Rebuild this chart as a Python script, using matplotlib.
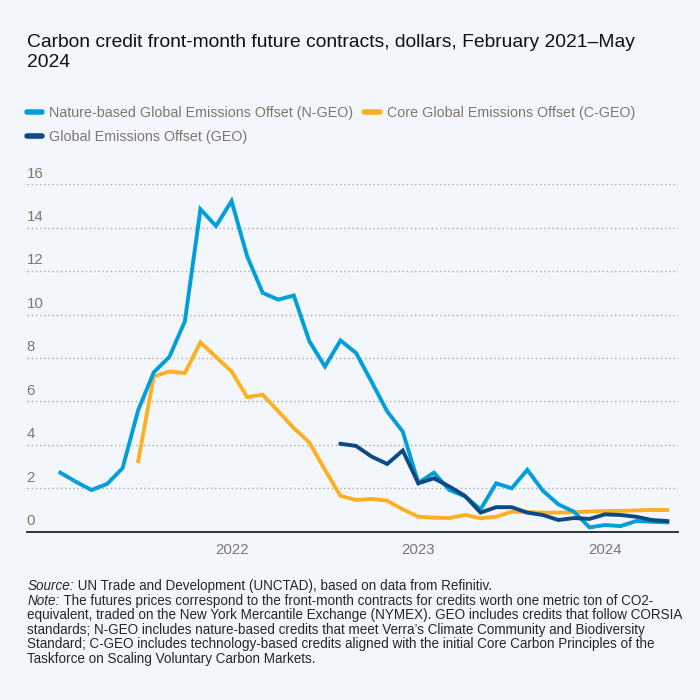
import numpy as np
import matplotlib
matplotlib.use("Agg")
import matplotlib.pyplot as plt
from matplotlib.lines import Line2D

# --------------------------------
# Data (monthly, index 0 = Jan 2021)
# --------------------------------
months_ngeo = np.arange(1, 41)  # Feb 2021 - May 2024
ngeo = [2.72, 2.3, 1.92, 2.2, 2.93, 5.6, 7.34, 8.05, 9.69, 14.85,
        14.08, 15.23, 12.69, 11.0, 10.69, 10.88, 8.77, 7.61, 8.81, 8.23,
        6.9, 5.54, 4.61, 2.25, 2.72, 1.92, 1.63, 1.03, 2.23, 2.0,
        2.85, 1.89, 1.26, 0.92, 0.2, 0.31, 0.26, 0.49, 0.46, 0.43]

months_cgeo = np.arange(6, 41)  # Jul 2021 - May 2024
cgeo = [3.25, 7.15, 7.38, 7.31, 8.72, 8.05, 7.38, 6.2, 6.31, 5.55,
        4.77, 4.11, 2.85, 1.65, 1.46, 1.51, 1.43, 1.03, 0.69, 0.65,
        0.63, 0.77, 0.62, 0.69, 0.92, 0.91, 0.88, 0.88, 0.9, 0.93,
        0.95, 0.96, 0.98, 1.0, 1.0]

months_geo = np.arange(19, 41)  # Aug 2022 - May 2024
geo = [4.05, 3.95, 3.46, 3.12, 3.74, 2.23, 2.46, 2.08, 1.65, 0.88,
       1.13, 1.13, 0.88, 0.77, 0.54, 0.63, 0.59, 0.8, 0.77, 0.69,
       0.54, 0.49]

year_ticks = [12, 24, 36]
year_labels = ["2022", "2023", "2024"]
y_ticks = [0, 2, 4, 6, 8, 10, 12, 14, 16]

labels = ["Nature-based Global Emissions Offset (N-GEO)",
          "Core Global Emissions Offset (C-GEO)",
          "Global Emissions Offset (GEO)"]
colors = ["#009edb", "#fdb022", "#0b4a86"]

title = "Carbon credit front-month future contracts, dollars, February 2021\u2013May\n2024"
source_text = " UN Trade and Development (UNCTAD), based on data from Refinitiv."
note_lines = [
    " The futures prices correspond to the front-month contracts for credits worth one metric ton of CO2-",
    "equivalent, traded on the New York Mercantile Exchange (NYMEX). GEO includes credits that follow CORSIA",
    "standards; N-GEO includes nature-based credits that meet Verra\u2019s Climate Community and Biodiversity",
    "Standard; C-GEO includes technology-based credits aligned with the initial Core Carbon Principles of the",
    "Taskforce on Scaling Voluntary Carbon Markets.",
]

# --------------------------------
# Style
# --------------------------------
bg = "#f3f7fb"
regular = ["Liberation Sans", "DejaVu Sans"]
gray = "#7d7670"

fig = plt.figure(figsize=(7, 7), dpi=100, facecolor=bg)
ax = fig.add_axes([0.038, 0.2404, 0.93, 0.4963], facecolor=bg)

ax.plot(months_ngeo, ngeo, color=colors[0], lw=2.8, solid_joinstyle="miter", zorder=3)
ax.plot(months_cgeo, cgeo, color=colors[1], lw=2.8, solid_joinstyle="miter", zorder=2)
ax.plot(months_geo, geo, color=colors[2], lw=2.8, solid_joinstyle="miter", zorder=4)

ax.set_xlim(-1.17, 40.66)
ax.set_ylim(0, 16)

for v in y_ticks[1:]:
    ax.axhline(v, color="#a9a9a9", lw=1.0, ls=(0, (1, 2)), zorder=1)
for v in y_ticks:
    ax.text(0.0, v + 0.17, str(v), transform=ax.get_yaxis_transform(),
            ha="left", va="bottom", fontsize=10.8, color=gray, family=regular)

ax.set_yticks([])
ax.set_xticks(year_ticks)
ax.set_xticklabels(year_labels, fontsize=10.8, color=gray, family=regular)
ax.tick_params(axis="x", length=0, pad=8)

for s in ["top", "right", "left"]:
    ax.spines[s].set_visible(False)
ax.spines["bottom"].set_color("#222222")
ax.spines["bottom"].set_linewidth(1.3)

# title
fig.text(0.039, 0.951, title, ha="left", va="top", fontsize=13.9,
         color="#111111", family=regular, linespacing=1.2)

# legend
handles = [Line2D([], [], color=c, lw=4, solid_capstyle="round") for c in colors]
order = [0, 2, 1]
fig.legend([handles[i] for i in order], [labels[i] for i in order],
           loc="upper left", bbox_to_anchor=(0.038, 0.849), ncol=2, frameon=False,
           prop={"family": regular, "size": 10.3}, labelcolor=gray,
           handlelength=1.1, handletextpad=0.45, columnspacing=0.8,
           labelspacing=0.72, borderaxespad=0, borderpad=0)

# footnote
fig.canvas.draw()
r = fig.canvas.get_renderer()
fs = 9.75
x0 = 0.039
y0 = 1 - 586 / 700
step = 14.6 / 700
t = fig.text(x0, y0, "Source:", ha="left", va="center", fontsize=fs,
             style="italic", family=regular, color="#262626")
w = t.get_window_extent(renderer=r).width / fig.bbox.width
fig.text(x0 + w, y0, source_text, ha="left", va="center", fontsize=fs,
         family=regular, color="#262626")
t = fig.text(x0, y0 - step, "Note:", ha="left", va="center", fontsize=fs,
             style="italic", family=regular, color="#262626")
w = t.get_window_extent(renderer=r).width / fig.bbox.width
for i, line in enumerate(note_lines):
    fig.text(x0 + (w if i == 0 else 0), y0 - step * (i + 1), line, ha="left",
             va="center", fontsize=fs, family=regular, color="#262626")

fig.savefig("out.png", dpi=100, facecolor=bg)
